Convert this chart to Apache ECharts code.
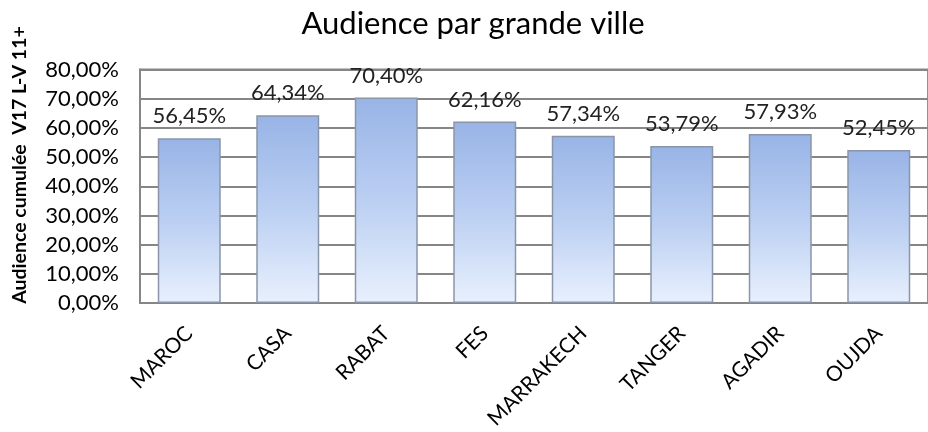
<!DOCTYPE html>
<html><head><meta charset="utf-8">
<script src="https://cdn.jsdelivr.net/npm/echarts@6/dist/echarts.min.js"></script>
<style>html,body{margin:0;padding:0;background:#fff}#c{width:928px;height:432px}</style>
</head><body><div id="c"></div>
<script>
const title = 'Audience par grande ville';
const yAxisTitle = 'Audience cumulée  V17 L-V 11+';
const categories = ['MAROC','CASA','RABAT','FES','MARRAKECH','TANGER','AGADIR','OUJDA'];
const values = [56.45, 64.34, 70.40, 62.16, 57.34, 53.79, 57.93, 52.45];
const yTicks = [0,10,20,30,40,50,60,70,80];

const FONT = 'Lato';
const fmt = v => v.toFixed(2).replace('.', ',') + '%';
const chart = echarts.init(document.getElementById('c'));
chart.setOption({
  animation: false,
  backgroundColor: '#fff',
  title: { text: title, left: 468, top: 3, textAlign: 'center',
    textStyle: { fontFamily: FONT, fontSize: 31, fontWeight: 'normal', color: '#000' } },
  graphic: [{ type: 'text', x: 20, y: 165, rotation: Math.PI/2,
    style: { text: yAxisTitle, fontFamily: FONT, fontSize: 19.5, fontWeight: 'bold', fill: '#000',
      align: 'center', verticalAlign: 'middle' } }],
  grid: { left: 140, top: 69.5, width: 792, height: 233.5, show: true, borderColor: '#868686', borderWidth: 1.8, backgroundColor: 'transparent' },
  xAxis: { type: 'category', data: categories,
    axisLine: { show: true, lineStyle: { color: '#868686', width: 1.8 } },
    axisTick: { show: false },
    axisLabel: { rotate: 45, margin: 27, fontFamily: FONT, fontSize: 21, color: '#000', interval: 0 } },
  yAxis: { type: 'value', min: 0, max: 80, interval: 10,
    axisLine: { show: true, lineStyle: { color: '#868686', width: 1.8 } },
    axisTick: { show: false },
    splitLine: { show: true, lineStyle: { color: '#868686', width: 1.8 } },
    axisLabel: { margin: 21, fontFamily: FONT, fontSize: 22, color: '#000',
      formatter: v => yTicks.includes(v) ? v.toFixed(2).replace('.', ',') + '%' : '' } },
  series: [{ type: 'bar', data: values, barWidth: 63,
    itemStyle: { borderColor: '#8a96a8', borderWidth: 1.5,
      color: new echarts.graphic.LinearGradient(0,0,0,1,[
        {offset:0,color:'#98b4e6'},{offset:0.5,color:'#bbcff2'},{offset:1,color:'#e8f0fd'}]) },
    label: { show: true, position: 'top', distance: 11, fontFamily: FONT, fontSize: 22, color: '#222',
      formatter: p => fmt(p.value) } }]
});
</script></body></html>
